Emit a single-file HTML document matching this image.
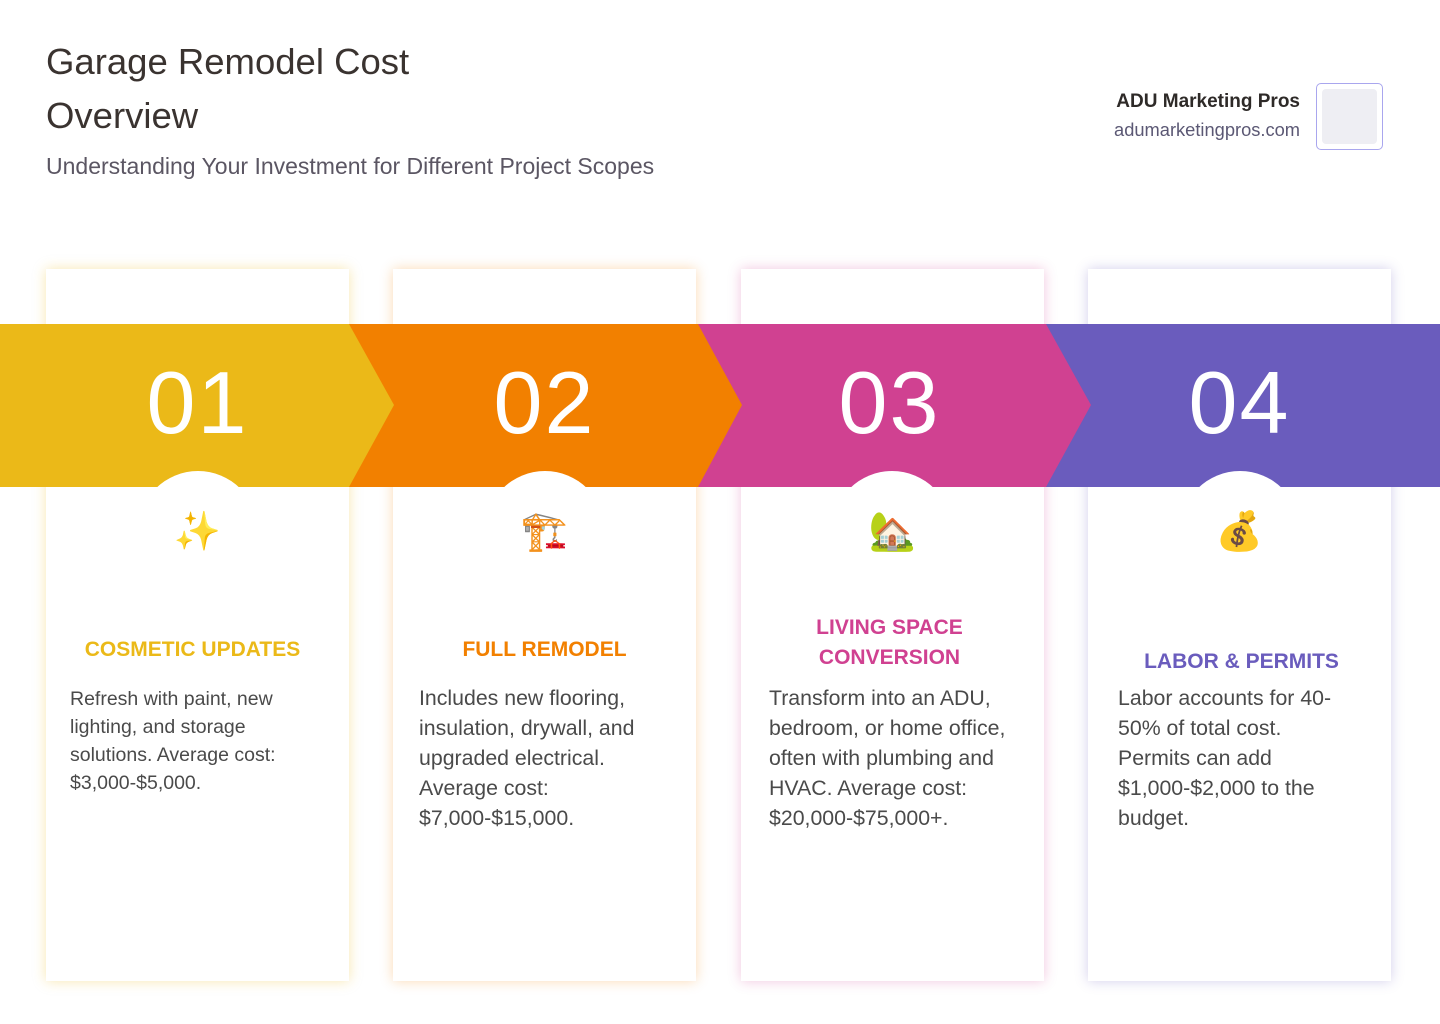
<!DOCTYPE html>
<html><head><meta charset="utf-8"><style>
*{margin:0;padding:0;box-sizing:border-box}
body{width:1440px;height:1024px;background:#fff;font-family:"Liberation Sans",sans-serif;position:relative;overflow:hidden}
.t{position:absolute;left:46px;top:35px;font-size:36.5px;line-height:54px;color:#3a3330}
.s{position:absolute;left:46px;top:153px;font-size:23px;color:#5b5663}
.b1{position:absolute;right:140px;top:91px;font-size:19px;font-weight:bold;color:#2e2a28;text-align:right}
.b2{position:absolute;right:140px;top:119px;font-size:18.3px;color:#5b5874;text-align:right}
.logo{position:absolute;left:1316px;top:83px;width:67px;height:67px;border:1px solid #a9a6ee;border-radius:5px;padding:5px}
.logo div{width:100%;height:100%;background:#eeeef3;border-radius:4px}
.card{position:absolute;top:269px;width:303px;height:712px;background:#fff}
.num{position:absolute;top:352px;width:303px;text-align:center;color:#fff;font-size:88px;font-weight:300;letter-spacing:2px}
.circ{position:absolute;top:471px;width:120px;height:120px;border-radius:50%;background:#fff}
.em{position:absolute;top:510px;width:303px;text-align:center;font-size:38px}
.h{position:absolute;width:303px;text-align:center;font-weight:bold;font-size:21px;line-height:30px}
.p{position:absolute;font-size:21.3px;line-height:30px;color:#4a4a4a}
</style></head><body>
<div class="t">Garage Remodel Cost<br>Overview</div>
<div class="s">Understanding Your Investment for Different Project Scopes</div>
<div class="b1">ADU Marketing Pros</div>
<div class="b2">adumarketingpros.com</div>
<div class="logo"><div></div></div>

<div class="card" style="left:46px;box-shadow:0 0 12px rgba(236,186,25,.35)"></div>
<div class="card" style="left:393px;box-shadow:0 0 12px rgba(242,128,0,.3)"></div>
<div class="card" style="left:741px;box-shadow:0 0 12px rgba(208,64,145,.3)"></div>
<div class="card" style="left:1088px;box-shadow:0 0 12px rgba(106,92,189,.3)"></div>

<svg style="position:absolute;left:0;top:0" width="1440" height="1024">
<rect x="1044" y="324" width="396" height="163" fill="#6a5cbd"/>
<polygon points="696,324 1046,324 1091,405 1046,487 696,487" fill="#d04191"/>
<polygon points="349,324 698,324 742,405 698,487 349,487" fill="#f28000"/>
<polygon points="0,324 349,324 394,405 349,487 0,487" fill="#ebb918"/>
</svg>

<div class="circ" style="left:138px"></div>
<div class="circ" style="left:485px"></div>
<div class="circ" style="left:832px"></div>
<div class="circ" style="left:1180px"></div>

<div class="num" style="left:46px">01</div>
<div class="num" style="left:393px">02</div>
<div class="num" style="left:738px">03</div>
<div class="num" style="left:1088px">04</div>

<div class="em" style="left:46px">✨</div>
<div class="em" style="left:393px">🏗️</div>
<div class="em" style="left:741px">🏡</div>
<div class="em" style="left:1088px">💰</div>

<div class="h" style="left:41px;top:635px;color:#ebb918">COSMETIC UPDATES</div>
<div class="h" style="left:393px;top:635px;color:#f28000">FULL REMODEL</div>
<div class="h" style="left:738px;top:613px;color:#d04191">LIVING SPACE<br>CONVERSION</div>
<div class="h" style="left:1090px;top:647px;color:#6a5cbd">LABOR &amp; PERMITS</div>

<div class="p" style="left:70px;top:685px;width:250px;font-size:19.5px;line-height:28px">Refresh with paint, new lighting, and storage solutions. Average cost: $3,000-$5,000.</div>
<div class="p" style="left:419px;top:683px;width:250px">Includes new flooring, insulation, drywall, and upgraded electrical. Average cost: $7,000-$15,000.</div>
<div class="p" style="left:769px;top:683px;width:260px">Transform into an ADU, bedroom, or home office, often with plumbing and HVAC. Average cost: $20,000-$75,000+.</div>
<div class="p" style="left:1118px;top:683px;width:228px">Labor accounts for 40-50% of total cost. Permits can add $1,000-$2,000 to the budget.</div>
</body></html>
